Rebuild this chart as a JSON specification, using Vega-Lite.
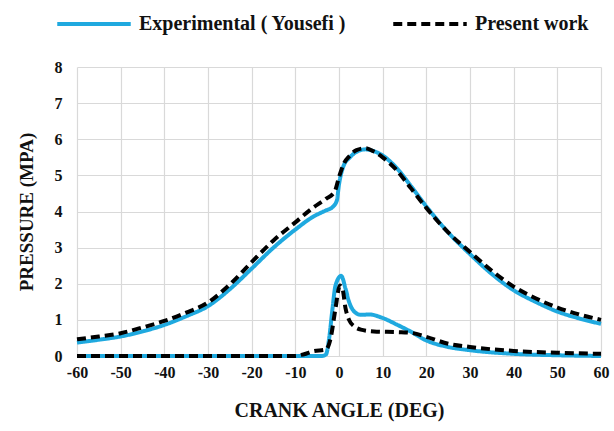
{
  "$schema": "https://vega.github.io/schema/vega-lite/v6.json",
  "width": 524,
  "height": 289,
  "autosize": "none",
  "padding": {"left": 77, "top": 67, "right": 14, "bottom": 75},
  "background": "white",
  "config": {
    "font": "Liberation Serif",
    "view": {"stroke": null},
    "axis": {"labelFont": "Liberation Serif", "titleFont": "Liberation Serif", "labelFontWeight": "bold", "titleFontWeight": "bold", "labelColor": "#111", "titleColor": "#111", "gridColor": "#d9d9d9", "gridWidth": 1.2, "domain": false, "ticks": false, "labelFlush": false}
  },
  "data": {"values": [
    {"series": "Experimental ( Yousefi )", "curve": "P", "angle": -60, "value": 0.37},
    {"series": "Experimental ( Yousefi )", "curve": "P", "angle": -55, "value": 0.45},
    {"series": "Experimental ( Yousefi )", "curve": "P", "angle": -50, "value": 0.54},
    {"series": "Experimental ( Yousefi )", "curve": "P", "angle": -45, "value": 0.68},
    {"series": "Experimental ( Yousefi )", "curve": "P", "angle": -40, "value": 0.86},
    {"series": "Experimental ( Yousefi )", "curve": "P", "angle": -35, "value": 1.1},
    {"series": "Experimental ( Yousefi )", "curve": "P", "angle": -30, "value": 1.38},
    {"series": "Experimental ( Yousefi )", "curve": "P", "angle": -25, "value": 1.85},
    {"series": "Experimental ( Yousefi )", "curve": "P", "angle": -20, "value": 2.42},
    {"series": "Experimental ( Yousefi )", "curve": "P", "angle": -15, "value": 3.0},
    {"series": "Experimental ( Yousefi )", "curve": "P", "angle": -10, "value": 3.5},
    {"series": "Experimental ( Yousefi )", "curve": "P", "angle": -6, "value": 3.85},
    {"series": "Experimental ( Yousefi )", "curve": "P", "angle": -3, "value": 4.03},
    {"series": "Experimental ( Yousefi )", "curve": "P", "angle": -1.5, "value": 4.12},
    {"series": "Experimental ( Yousefi )", "curve": "P", "angle": -0.5, "value": 4.3},
    {"series": "Experimental ( Yousefi )", "curve": "P", "angle": 0, "value": 4.75},
    {"series": "Experimental ( Yousefi )", "curve": "P", "angle": 1, "value": 5.25},
    {"series": "Experimental ( Yousefi )", "curve": "P", "angle": 2.5, "value": 5.5},
    {"series": "Experimental ( Yousefi )", "curve": "P", "angle": 4, "value": 5.65},
    {"series": "Experimental ( Yousefi )", "curve": "P", "angle": 6, "value": 5.72},
    {"series": "Experimental ( Yousefi )", "curve": "P", "angle": 8, "value": 5.67},
    {"series": "Experimental ( Yousefi )", "curve": "P", "angle": 10, "value": 5.55},
    {"series": "Experimental ( Yousefi )", "curve": "P", "angle": 13, "value": 5.23},
    {"series": "Experimental ( Yousefi )", "curve": "P", "angle": 16.5, "value": 4.7},
    {"series": "Experimental ( Yousefi )", "curve": "P", "angle": 20, "value": 4.14},
    {"series": "Experimental ( Yousefi )", "curve": "P", "angle": 25, "value": 3.42},
    {"series": "Experimental ( Yousefi )", "curve": "P", "angle": 30, "value": 2.82},
    {"series": "Experimental ( Yousefi )", "curve": "P", "angle": 35, "value": 2.27},
    {"series": "Experimental ( Yousefi )", "curve": "P", "angle": 40, "value": 1.82},
    {"series": "Experimental ( Yousefi )", "curve": "P", "angle": 45, "value": 1.5},
    {"series": "Experimental ( Yousefi )", "curve": "P", "angle": 50, "value": 1.23},
    {"series": "Experimental ( Yousefi )", "curve": "P", "angle": 55, "value": 1.04},
    {"series": "Experimental ( Yousefi )", "curve": "P", "angle": 60, "value": 0.89},

    {"series": "Experimental ( Yousefi )", "curve": "H", "angle": -60, "value": 0},
    {"series": "Experimental ( Yousefi )", "curve": "H", "angle": -30, "value": 0},
    {"series": "Experimental ( Yousefi )", "curve": "H", "angle": -10, "value": 0},
    {"series": "Experimental ( Yousefi )", "curve": "H", "angle": -4, "value": 0},
    {"series": "Experimental ( Yousefi )", "curve": "H", "angle": -3, "value": 0.04},
    {"series": "Experimental ( Yousefi )", "curve": "H", "angle": -2.3, "value": 0.45},
    {"series": "Experimental ( Yousefi )", "curve": "H", "angle": -1.5, "value": 1.3},
    {"series": "Experimental ( Yousefi )", "curve": "H", "angle": -0.8, "value": 1.95},
    {"series": "Experimental ( Yousefi )", "curve": "H", "angle": 0.5, "value": 2.22},
    {"series": "Experimental ( Yousefi )", "curve": "H", "angle": 1.5, "value": 1.86},
    {"series": "Experimental ( Yousefi )", "curve": "H", "angle": 2.3, "value": 1.5},
    {"series": "Experimental ( Yousefi )", "curve": "H", "angle": 3.5, "value": 1.23},
    {"series": "Experimental ( Yousefi )", "curve": "H", "angle": 5, "value": 1.14},
    {"series": "Experimental ( Yousefi )", "curve": "H", "angle": 7, "value": 1.15},
    {"series": "Experimental ( Yousefi )", "curve": "H", "angle": 9.6, "value": 1.07},
    {"series": "Experimental ( Yousefi )", "curve": "H", "angle": 13.4, "value": 0.86},
    {"series": "Experimental ( Yousefi )", "curve": "H", "angle": 16.5, "value": 0.67},
    {"series": "Experimental ( Yousefi )", "curve": "H", "angle": 20, "value": 0.43},
    {"series": "Experimental ( Yousefi )", "curve": "H", "angle": 25, "value": 0.25},
    {"series": "Experimental ( Yousefi )", "curve": "H", "angle": 30, "value": 0.16},
    {"series": "Experimental ( Yousefi )", "curve": "H", "angle": 40, "value": 0.06},
    {"series": "Experimental ( Yousefi )", "curve": "H", "angle": 50, "value": 0.02},
    {"series": "Experimental ( Yousefi )", "curve": "H", "angle": 60, "value": 0.0},

    {"series": "Present work", "curve": "P", "angle": -60, "value": 0.46},
    {"series": "Present work", "curve": "P", "angle": -55, "value": 0.54},
    {"series": "Present work", "curve": "P", "angle": -50, "value": 0.63},
    {"series": "Present work", "curve": "P", "angle": -45, "value": 0.79},
    {"series": "Present work", "curve": "P", "angle": -40, "value": 0.97},
    {"series": "Present work", "curve": "P", "angle": -35, "value": 1.2},
    {"series": "Present work", "curve": "P", "angle": -30, "value": 1.48},
    {"series": "Present work", "curve": "P", "angle": -25, "value": 1.98},
    {"series": "Present work", "curve": "P", "angle": -20, "value": 2.6},
    {"series": "Present work", "curve": "P", "angle": -15, "value": 3.2},
    {"series": "Present work", "curve": "P", "angle": -10, "value": 3.7},
    {"series": "Present work", "curve": "P", "angle": -6, "value": 4.1},
    {"series": "Present work", "curve": "P", "angle": -3, "value": 4.35},
    {"series": "Present work", "curve": "P", "angle": -1, "value": 4.55},
    {"series": "Present work", "curve": "P", "angle": 0, "value": 4.95},
    {"series": "Present work", "curve": "P", "angle": 1, "value": 5.3},
    {"series": "Present work", "curve": "P", "angle": 2.5, "value": 5.55},
    {"series": "Present work", "curve": "P", "angle": 4, "value": 5.7},
    {"series": "Present work", "curve": "P", "angle": 6, "value": 5.75},
    {"series": "Present work", "curve": "P", "angle": 8, "value": 5.66},
    {"series": "Present work", "curve": "P", "angle": 10, "value": 5.5},
    {"series": "Present work", "curve": "P", "angle": 13, "value": 5.17},
    {"series": "Present work", "curve": "P", "angle": 16.5, "value": 4.64},
    {"series": "Present work", "curve": "P", "angle": 20, "value": 4.1},
    {"series": "Present work", "curve": "P", "angle": 25, "value": 3.42},
    {"series": "Present work", "curve": "P", "angle": 30, "value": 2.88},
    {"series": "Present work", "curve": "P", "angle": 35, "value": 2.36},
    {"series": "Present work", "curve": "P", "angle": 40, "value": 1.92},
    {"series": "Present work", "curve": "P", "angle": 45, "value": 1.6},
    {"series": "Present work", "curve": "P", "angle": 50, "value": 1.34},
    {"series": "Present work", "curve": "P", "angle": 55, "value": 1.15},
    {"series": "Present work", "curve": "P", "angle": 60, "value": 1.0},

    {"series": "Present work", "curve": "H", "angle": -60, "value": 0},
    {"series": "Present work", "curve": "H", "angle": -30, "value": 0},
    {"series": "Present work", "curve": "H", "angle": -10, "value": 0},
    {"series": "Present work", "curve": "H", "angle": -8, "value": 0.05},
    {"series": "Present work", "curve": "H", "angle": -6, "value": 0.13},
    {"series": "Present work", "curve": "H", "angle": -3, "value": 0.18},
    {"series": "Present work", "curve": "H", "angle": -1.9, "value": 0.5},
    {"series": "Present work", "curve": "H", "angle": -0.8, "value": 1.32},
    {"series": "Present work", "curve": "H", "angle": 0.2, "value": 1.95},
    {"series": "Present work", "curve": "H", "angle": 0.8, "value": 1.86},
    {"series": "Present work", "curve": "H", "angle": 1.5, "value": 1.32},
    {"series": "Present work", "curve": "H", "angle": 2.3, "value": 1.0},
    {"series": "Present work", "curve": "H", "angle": 3.5, "value": 0.82},
    {"series": "Present work", "curve": "H", "angle": 5, "value": 0.73},
    {"series": "Present work", "curve": "H", "angle": 8, "value": 0.68},
    {"series": "Present work", "curve": "H", "angle": 13.4, "value": 0.66},
    {"series": "Present work", "curve": "H", "angle": 16.5, "value": 0.64},
    {"series": "Present work", "curve": "H", "angle": 20, "value": 0.53},
    {"series": "Present work", "curve": "H", "angle": 25, "value": 0.34},
    {"series": "Present work", "curve": "H", "angle": 30, "value": 0.25},
    {"series": "Present work", "curve": "H", "angle": 40, "value": 0.14},
    {"series": "Present work", "curve": "H", "angle": 50, "value": 0.09},
    {"series": "Present work", "curve": "H", "angle": 60, "value": 0.06}
  ]},
  "mark": {"type": "line", "interpolate": "monotone", "strokeWidth": 4},
  "encoding": {
    "x": {"field": "angle", "type": "quantitative", "scale": {"domain": [-60, 60], "nice": false},
      "axis": {"values": [-60,-50,-40,-30,-20,-10,0,10,20,30,40,50,60], "labelExpr": "'' + datum.value", "title": "CRANK ANGLE (DEG)", "labelFontSize": 16, "titleFontSize": 20, "labelPadding": 8, "titlePadding": 20}},
    "y": {"field": "value", "type": "quantitative", "scale": {"domain": [0, 8], "nice": false},
      "axis": {"values": [0,1,2,3,4,5,6,7,8], "title": "PRESSURE (MPA)", "labelFontSize": 16, "titleFontSize": 19, "labelPadding": 15, "titlePadding": 18}},
    "color": {"field": "series", "type": "nominal", "scale": {"domain": ["Experimental ( Yousefi )", "Present work"], "range": ["#1FA9DF", "#000000"]},
      "legend": {"title": null, "orient": "none", "legendX": -22, "legendY": -82, "direction": "horizontal", "symbolType": "stroke", "symbolSize": 5400, "symbolStrokeWidth": 4, "labelFont": "Liberation Serif", "labelFontWeight": "bold", "labelFontSize": 20, "labelColor": "#111", "columnPadding": 38, "labelOffset": 6, "labelLimit": 400}},
    "strokeDash": {"field": "series", "type": "nominal", "scale": {"domain": ["Experimental ( Yousefi )", "Present work"], "range": [[1, 0], [9, 5]]}},
    "detail": {"field": "curve", "type": "nominal"}
  }
}
